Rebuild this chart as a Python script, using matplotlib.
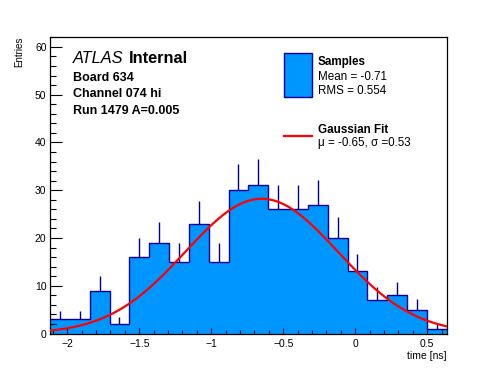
import matplotlib
matplotlib.use("Agg")
import matplotlib.pyplot as plt
import numpy as np
from matplotlib.ticker import MultipleLocator

plt.rcParams['font.family'] = ['Liberation Sans', 'DejaVu Sans']

# histogram of sample times (20 bins)
x_lo, x_hi = -2.12, 0.635
counts = [3, 3, 9, 2, 16, 19, 15, 23, 15, 30, 31, 26, 26, 27, 20, 13, 7, 8, 5, 1]

# gaussian fit parameters
fit_mu = -0.65
fit_sigma = 0.53
fit_amp = 28.2

hist_mean = -0.71
hist_rms = 0.554

fill_col = '#0096ff'
line_col = '#000099'

edges = np.linspace(x_lo, x_hi, len(counts) + 1)
centers = 0.5 * (edges[:-1] + edges[1:])
cnt = np.array(counts, dtype=float)

fig = plt.figure(figsize=(4.96, 3.72), dpi=100)
ax = fig.add_axes([50 / 496, 1 - 333.5 / 372, 396.7 / 496, 296.2 / 372])

ax.vlines(centers, cnt, cnt + np.sqrt(cnt), color=line_col, lw=1, zorder=2)
ax.stairs(cnt, edges, fill=True, color=fill_col, zorder=1)
ax.stairs(cnt, edges, color=line_col, lw=1, baseline=None, zorder=3)

xf = np.linspace(x_lo, x_hi, 400)
ax.plot(xf, fit_amp * np.exp(-0.5 * ((xf - fit_mu) / fit_sigma) ** 2),
        color='#ff0000', lw=1.6, zorder=4)

ax.set_xlim(x_lo, x_hi)
ax.set_ylim(0, 62)
ax.xaxis.set_major_locator(MultipleLocator(0.5))
ax.xaxis.set_minor_locator(MultipleLocator(0.1))
ax.yaxis.set_major_locator(MultipleLocator(10))
ax.yaxis.set_minor_locator(MultipleLocator(2))
ax.tick_params(axis='x', which='major', direction='in', length=4, width=0.8, labelsize=7.5, pad=4)
ax.tick_params(axis='x', which='minor', direction='in', length=2.7, width=0.8)
ax.tick_params(axis='y', which='major', direction='in', length=8.5, width=0.8, labelsize=7.5, pad=2.5)
ax.tick_params(axis='y', which='minor', direction='in', length=4.2, width=0.8)
ax.xaxis.set_major_formatter(matplotlib.ticker.FuncFormatter(lambda v, p: f"{v:g}".replace('-', '\u2212')))
for s in ax.spines.values():
    s.set_linewidth(0.9)

W, H = 496, 372
def put(x, y, s, **kw):
    fig.text(x / W, 1 - y / H, s, va='baseline', **kw)

put(446.5, 359, 'time [ns]', ha='right', fontsize=7.5)
fig.text(19.5 / W, 1 - 36.7 / H, 'Entries', rotation=90, ha='center', va='top', fontsize=7)

put(73.3, 62.7, 'ATLAS', fontsize=11.8, style='italic')
put(129, 62.7, 'Internal', fontsize=11.8, fontweight='bold')
put(73.3, 80.7, 'Board 634', fontsize=9, fontweight='bold')
put(73.3, 97.3, 'Channel 074 hi', fontsize=9, fontweight='bold')
put(73.3, 114, 'Run 1479 A=0.005', fontsize=9, fontweight='bold')

# legend drawn by hand in figure pixels
fig.patches.append(plt.Rectangle((283.5 / W, 1 - 96.7 / H), 28.3 / W, 43.4 / H,
                                 transform=fig.transFigure, facecolor=fill_col,
                                 edgecolor=line_col, lw=1))
fig.lines.append(plt.Line2D([283.5 / W, 311.8 / W], [1 - 136 / H, 1 - 136 / H],
                            transform=fig.transFigure, color='#ff0000', lw=1.6))
put(317.7, 65, 'Samples', fontsize=8.4, fontweight='bold')
put(317.7, 80, f'Mean = {hist_mean}', fontsize=8.4)
put(317.7, 94, f'RMS = {hist_rms}', fontsize=8.4)
put(317.7, 133.3, 'Gaussian Fit', fontsize=8.4, fontweight='bold')
put(317.7, 146, f'\u03bc = {fit_mu}, \u03c3 ={fit_sigma}', fontsize=8.4)

fig.savefig('out.png', dpi=100)
